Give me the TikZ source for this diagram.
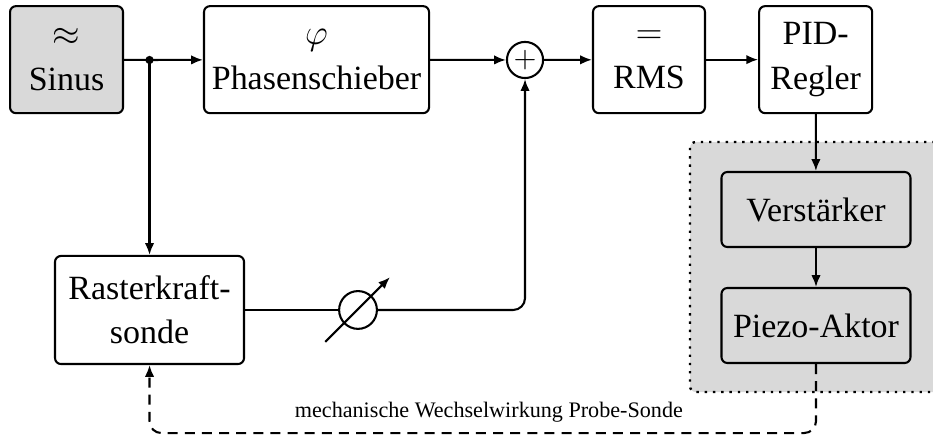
\documentclass[tikz,border=0pt]{standalone}
\usepackage{fontspec}
\setmainfont{Liberation Serif}
\usetikzlibrary{arrows.meta}
\definecolor{boxGray}{HTML}{D9D9D9}

\begin{document}
\begin{tikzpicture}[
 block/.style={rounded corners=2pt,draw=black,line width=0.7pt,fill=white,align=center,font=\fontsize{11.5}{15}\selectfont,minimum width=1.345cm,minimum height=1.274cm,inner sep=2pt},
 grayblock/.style={block,fill=boxGray},
 wideblock/.style={grayblock,minimum width=2.25cm,minimum height=0.893cm},
 sumnode/.style={circle,draw=black,line width=0.7pt,fill=white,minimum size=0.43cm,inner sep=0pt},
 phasenode/.style={circle,draw=black,line width=0.7pt,minimum size=0.45cm,inner sep=0pt},
 wire/.style={line width=0.7pt,draw=black},
 edge/.style={-{Latex[length=4pt,width=3.2pt]},line width=0.7pt,draw=black},
 feedback/.style={edge,dash pattern=on 3.4pt off 2.4pt,rounded corners=4pt},
 group/.style={fill=boxGray,draw=black,dotted,line width=0.8pt,rounded corners=2pt},
 note/.style={font=\fontsize{7.5}{9}\selectfont,inner sep=1pt}
]
\useasboundingbox (0,0) rectangle (11.107,-5.202);

\draw[group] (8.214,-1.690) rectangle (11.4,-4.667);

\node[grayblock] (sinus) at (0.792,-0.71) {$\approx$\\Sinus};
\node[block,minimum width=2.679cm] (phase) at (3.768,-0.71) {$\varphi$\\Phasenschieber};
\node[sumnode] (sum) at (6.25,-0.714) {$+$};
\node[block,minimum width=1.333cm] (rms) at (7.726,-0.71) {$=$\\RMS};
\node[block] (pid) at (9.71,-0.71) {PID-\\Regler};

\node[wideblock] (verst) at (9.714,-2.494) {Verstärker};
\node[wideblock] (piezo) at (9.714,-3.875) {Piezo-Aktor};

\node[block,minimum width=2.25cm,minimum height=1.286cm] (rks) at (1.78,-3.69) {Rasterkraft-\\sonde};
\node[phasenode] (phs) at (4.262,-3.69) {};

\coordinate (junc) at (1.78,-0.714);
\coordinate (base) at (0,-5.155);

\draw[wire] (sinus) -- (junc);
\fill (junc) circle (1.4pt);
\draw[edge] (junc) -- (phase);
\draw[edge] (phase) -- (sum);
\draw[edge] (sum) -- (rms);
\draw[edge] (rms) -- (pid);
\draw[edge] (pid) -- (verst);
\draw[edge] (verst) -- (piezo);
\draw[edge] (junc) -- (rks);

\draw[wire] (rks) -- (phs);
\draw[edge,rounded corners=4pt] (phs) -| (sum);
\draw[edge] ([shift={(-0.39,-0.38)}]phs.center) -- ([shift={(0.38,0.39)}]phs.center);

\draw[feedback] (piezo) -- (piezo |- base) -- (rks |- base) -- (rks);
\node[note] (wechsel) at (5.82,-4.905) {mechanische Wechselwirkung Probe-Sonde};
\end{tikzpicture}
\end{document}
